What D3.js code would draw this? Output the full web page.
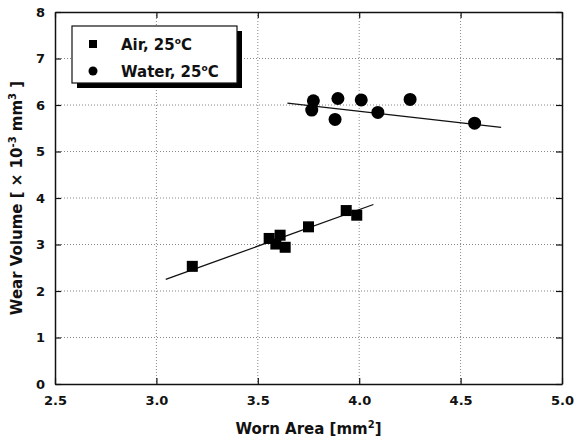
<!DOCTYPE html>
<html lang="en">
<head>
  <meta charset="UTF-8">
  <title>Wear Volume vs Worn Area</title>
  <script src="https://d3js.org/d3.v7.min.js"></script>
  <style>
    body { margin: 0; background: #fff; }
    text { font-family: "DejaVu Sans", Verdana, sans-serif; font-weight: bold; fill: #111; }
  </style>
</head>
<body>
  <svg id="chart" width="574" height="439"></svg>
  <script>
    // air, 25C (squares)
    let airX = [3.177, 3.556, 3.610, 3.589, 3.635, 3.750, 3.936, 3.988];
    let airY = [2.53, 3.13, 3.20, 3.01, 2.94, 3.38, 3.73, 3.63];
    let airFitX = [3.046, 4.07];
    let airFitY = [2.25, 3.86];

    // water, 25C (circles)
    let waterX = [3.774, 3.766, 3.895, 3.881, 4.010, 4.092, 4.251, 4.569];
    let waterY = [6.09, 5.89, 6.14, 5.69, 6.11, 5.84, 6.12, 5.61];
    let waterFitX = [3.646, 4.70];
    let waterFitY = [6.04, 5.52];

    let xTicks = [2.5, 3.0, 3.5, 4.0, 4.5, 5.0];
    let yTicks = [0, 1, 2, 3, 4, 5, 6, 7, 8];

    let mLeft = 55, mRight = 562, mTop = 12, mBottom = 384;
    let svg = d3.select('#chart');

    let x = d3.scaleLinear().domain([2.5, 5.0]).range([mLeft, mRight]);
    let y = d3.scaleLinear().domain([0, 8]).range([mBottom, mTop]);

    // dotted grid
    svg.append('g').selectAll('line')
      .data(xTicks.slice(1, -1))
      .join('line')
      .attr('x1', d => x(d)).attr('x2', d => x(d))
      .attr('y1', mTop).attr('y2', mBottom)
      .attr('stroke', '#888').attr('stroke-width', 1)
      .attr('stroke-dasharray', '1,2');
    svg.append('g').selectAll('line')
      .data(yTicks.slice(1, -1))
      .join('line')
      .attr('x1', mLeft).attr('x2', mRight)
      .attr('y1', d => y(d)).attr('y2', d => y(d))
      .attr('stroke', '#888').attr('stroke-width', 1)
      .attr('stroke-dasharray', '1,2');

    // axes with inward ticks
    let axB = svg.append('g').attr('transform', 'translate(0,' + mBottom + ')')
      .call(d3.axisBottom(x).tickValues(xTicks).tickSizeInner(-6).tickSizeOuter(0)
        .tickPadding(12).tickFormat(d3.format('.1f')));
    let axL = svg.append('g').attr('transform', 'translate(' + mLeft + ',0)')
      .call(d3.axisLeft(y).tickValues(yTicks).tickSizeInner(-6).tickSizeOuter(0)
        .tickPadding(10).tickFormat(d3.format('d')));
    let axT = svg.append('g').attr('transform', 'translate(0,' + mTop + ')')
      .call(d3.axisTop(x).tickValues(xTicks).tickSizeInner(-6).tickSizeOuter(0).tickFormat(''));
    let axR = svg.append('g').attr('transform', 'translate(' + mRight + ',0)')
      .call(d3.axisRight(y).tickValues(yTicks).tickSizeInner(-6).tickSizeOuter(0).tickFormat(''));

    [axB, axL, axT, axR].forEach(function (a) {
      a.selectAll('path').attr('stroke', '#111').attr('stroke-width', 1.5);
      a.selectAll('line').attr('stroke', '#111').attr('stroke-width', 1.2);
      a.selectAll('text').attr('font-size', 13);
    });

    // fit lines
    let line = d3.line().x(d => x(d[0])).y(d => y(d[1]));
    svg.append('path').datum(d3.zip(airFitX, airFitY))
      .attr('d', line).attr('stroke', '#111').attr('stroke-width', 1.3).attr('fill', 'none');
    svg.append('path').datum(d3.zip(waterFitX, waterFitY))
      .attr('d', line).attr('stroke', '#111').attr('stroke-width', 1.3).attr('fill', 'none');

    // markers
    let sq = 11;
    svg.append('g').selectAll('rect')
      .data(d3.zip(airX, airY))
      .join('rect')
      .attr('x', d => x(d[0]) - sq / 2)
      .attr('y', d => y(d[1]) - sq / 2)
      .attr('width', sq).attr('height', sq)
      .attr('fill', '#000');
    svg.append('g').selectAll('circle')
      .data(d3.zip(waterX, waterY))
      .join('circle')
      .attr('cx', d => x(d[0]))
      .attr('cy', d => y(d[1]))
      .attr('r', 6.5)
      .attr('fill', '#000');

    // legend
    let lg = svg.append('g');
    lg.append('rect').attr('x', 77).attr('y', 31).attr('width', 165).attr('height', 57).attr('fill', '#000');
    lg.append('rect').attr('x', 72).attr('y', 26).attr('width', 165).attr('height', 57)
      .attr('fill', '#fff').attr('stroke', '#111').attr('stroke-width', 1.2);
    lg.append('rect').attr('x', 89).attr('y', 40).attr('width', 8).attr('height', 8).attr('fill', '#000');
    lg.append('circle').attr('cx', 93).attr('cy', 71).attr('r', 4.5).attr('fill', '#000');

    function legendText(yy, label) {
      let t = lg.append('text').attr('x', 121).attr('y', yy).attr('font-size', 15);
      t.append('tspan').text(label + ', 25');
      t.append('tspan').attr('dy', -6).attr('font-size', 9).text('o');
      t.append('tspan').attr('dy', 6).text('C');
    }
    legendText(50, 'Air');
    legendText(77, 'Water');

    // axis titles
    let xt = svg.append('text').attr('x', (mLeft + mRight) / 2).attr('y', 434)
      .attr('text-anchor', 'middle').attr('font-size', 15);
    xt.append('tspan').text('Worn Area [mm');
    xt.append('tspan').attr('dy', -6).attr('font-size', 10).text('2');
    xt.append('tspan').attr('dy', 6).text(']');

    let yt = svg.append('text').attr('transform', 'translate(22,' + ((mTop + mBottom) / 2) + ') rotate(-90)')
      .attr('text-anchor', 'middle').attr('font-size', 15);
    yt.append('tspan').text('Wear Volume [ \u00d7 10');
    yt.append('tspan').attr('dy', -6).attr('font-size', 10).text('-3');
    yt.append('tspan').attr('dy', 6).text(' mm');
    yt.append('tspan').attr('dy', -6).attr('font-size', 10).text('3');
    yt.append('tspan').attr('dy', 6).text(' ]');
  </script>
</body>
</html>
